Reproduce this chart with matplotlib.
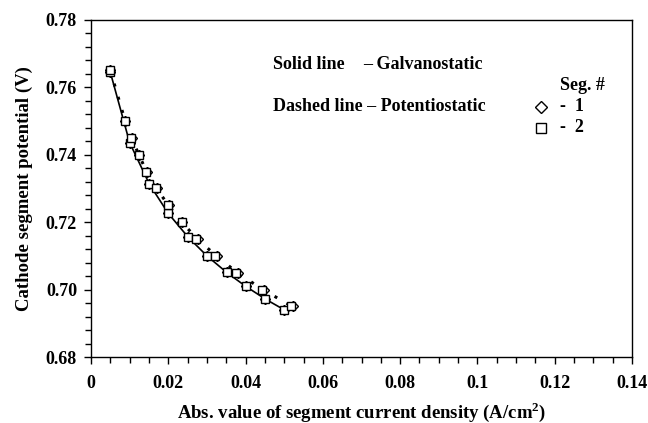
import numpy as np
import matplotlib
matplotlib.use('Agg')
import matplotlib.pyplot as plt
import matplotlib.ticker as ticker

plt.rcParams['font.family'] = ['Liberation Serif', 'DejaVu Serif']
plt.rcParams['font.weight'] = 'bold'
plt.rcParams['mathtext.fontset'] = 'custom'
plt.rcParams['mathtext.rm'] = 'Liberation Serif'
plt.rcParams['mathtext.bf'] = 'Liberation Serif:bold'

# galvanostatic runs (solid line), current set, potential measured
galv_i = [0.0050, 0.0100, 0.0151, 0.0200, 0.0251, 0.0300, 0.0351, 0.0400, 0.0451, 0.0500]
galv_v_seg1 = [0.7645, 0.7436, 0.7313, 0.7226, 0.7156, 0.7100, 0.7051, 0.7010, 0.6972, 0.6940]
galv_v_seg2 = [0.7645, 0.7436, 0.7313, 0.7226, 0.7156, 0.7100, 0.7051, 0.7010, 0.6972, 0.6940]

# potentiostatic runs (dashed line), potential set, current measured
pot_v = [0.765, 0.750, 0.745, 0.740, 0.735, 0.730, 0.725, 0.720, 0.715, 0.710, 0.705, 0.700, 0.695]
pot_i_seg1 = [0.0050, 0.0089, 0.0105, 0.0124, 0.0144, 0.0170, 0.0201, 0.0236, 0.0276, 0.0327, 0.0381, 0.0447, 0.0523]
pot_i_seg2 = [0.0050, 0.0088, 0.01045, 0.01236, 0.01436, 0.0169, 0.0200, 0.02345, 0.0273, 0.0322, 0.0376, 0.0442, 0.0518]

fig = plt.figure(figsize=(6.48, 4.23), dpi=100)
ax = fig.add_axes([0.1404, 0.156, 0.835, 0.797])

pot_i_mean = (np.array(pot_i_seg1) + np.array(pot_i_seg2)) / 2.0
ax.plot(galv_i, galv_v_seg2, color='black', lw=1.2)
ax.plot(pot_i_mean, pot_v, color='black', lw=2.2, linestyle=(0, (1, 3.5)))

mk = dict(linestyle='none', mfc='white', mec='black', mew=1.0)
ax.plot(galv_i, galv_v_seg1, marker='D', ms=5.5, **mk)
ax.plot(pot_i_seg1, pot_v, marker='D', ms=5.5, **mk)
ax.plot(galv_i, galv_v_seg2, marker='s', ms=5.5, **mk)
ax.plot(pot_i_seg2, pot_v, marker='s', ms=5.5, **mk)

ax.set_xlim(0, 0.14)
ax.set_ylim(0.68, 0.78)
ax.xaxis.set_major_locator(ticker.MultipleLocator(0.02))
ax.xaxis.set_minor_locator(ticker.MultipleLocator(0.005))
ax.yaxis.set_major_locator(ticker.MultipleLocator(0.02))
ax.yaxis.set_minor_locator(ticker.MultipleLocator(0.004))
ax.xaxis.set_major_formatter(ticker.FuncFormatter(lambda v, p: '%g' % round(v, 3)))
ax.yaxis.set_major_formatter(ticker.FormatStrFormatter('%.2f'))
ax.tick_params(which='major', direction='out', length=5, width=1, labelsize=13)
ax.tick_params(axis='x', which='major', pad=8)
ax.tick_params(axis='y', which='major', pad=5)
ax.tick_params(which='minor', direction='out', length=4, width=1)
for s in ax.spines.values():
    s.set_linewidth(1.0)

ax.set_xlabel('Abs. value of segment current density (A/cm$^{\\mathbf{2}}$)',
              fontsize=13.5, fontweight='bold', labelpad=6)
ax.set_ylabel('Cathode segment potential (V)', fontsize=13.5, fontweight='bold', labelpad=9)

tk = dict(transform=ax.transAxes, fontsize=13, fontweight='bold', va='center')
ax.text(0.336, 0.868, 'Solid line', **tk)
ax.text(0.503, 0.868, '\u2013 Galvanostatic', **tk)
ax.text(0.336, 0.743, 'Dashed line \u2013 Potentiostatic', **tk)
ax.text(0.867, 0.805, 'Seg. #', **tk)
ax.text(0.867, 0.743, '-  1', **tk)
ax.text(0.867, 0.680, '-  2', **tk)
ax.plot([0.831], [0.743], marker='D', ms=6, transform=ax.transAxes, clip_on=False, **mk)
ax.plot([0.831], [0.680], marker='s', ms=7, transform=ax.transAxes, clip_on=False, **mk)

fig.savefig('out.png', dpi=100)
